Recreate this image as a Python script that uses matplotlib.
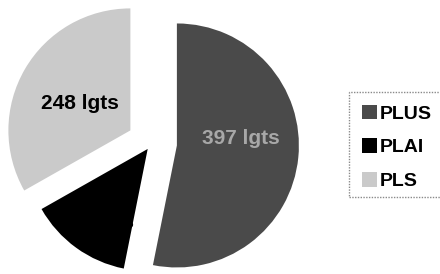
import numpy as np
import matplotlib.pyplot as plt
from matplotlib.patches import Rectangle

plt.rcParams['font.family'] = ['Liberation Sans', 'DejaVu Sans']

# data (PLAI label is black on black in the original)
groups = ["PLUS", "PLAI", "PLS"]
counts = [397, 102, 248]
colors = ["#4a4a4a", "#000000", "#cacaca"]
text_colors = ["#a8a8a8", "#000000", "#000000"]
label_dist = [0.53, 0.74, 0.47]
label_turn = [12, 0, 2]     # degrees, nudges the label off the wedge mid-line

R = 122
explode = [0.205 * R, 0.06 * R, 0.205 * R]   # pie() offsets in data units

fig = plt.figure(figsize=(4.4, 2.74), dpi=100)
ax = fig.add_axes([0, 0, 1, 1])

wedges, texts, autotexts = ax.pie(
    counts, colors=colors, explode=explode, startangle=90, counterclock=False,
    center=(152, 131), radius=R, frame=True,
    autopct=lambda p: "%d lgts" % round(p * sum(counts) / 100),
    wedgeprops=dict(linewidth=0),
    textprops=dict(fontsize=15, fontweight="bold"),
)
ax.set_xlim(0, 440)
ax.set_ylim(0, 274)
ax.set_aspect("equal")
ax.axis("off")

for w, t, c, d, turn in zip(wedges, autotexts, text_colors, label_dist, label_turn):
    mid = np.deg2rad((w.theta1 + w.theta2) / 2 + turn)
    cx, cy = w.center
    t.set_position((cx + d * w.r * np.cos(mid), cy + d * w.r * np.sin(mid)))
    t.set_color(c)

leg = fig.legend(
    wedges, groups, loc="upper left", bbox_to_anchor=(349 / 440, 1 - 92 / 274),
    frameon=False, borderaxespad=0, borderpad=0.65,
    prop=dict(size=14, weight="bold"),
    handlelength=0.8, handleheight=0.75, handletextpad=0.15, labelspacing=0.82,
)

# dotted frame, running off the right edge like the original
fig.patches.append(Rectangle((349 / 440, 1 - 197 / 274), 100 / 440, 105 / 274,
                             transform=fig.transFigure, fill=False,
                             edgecolor="#8a8a8a", linestyle=(0, (1, 1)), linewidth=1))

fig.savefig("out.png", dpi=100, facecolor="white")
